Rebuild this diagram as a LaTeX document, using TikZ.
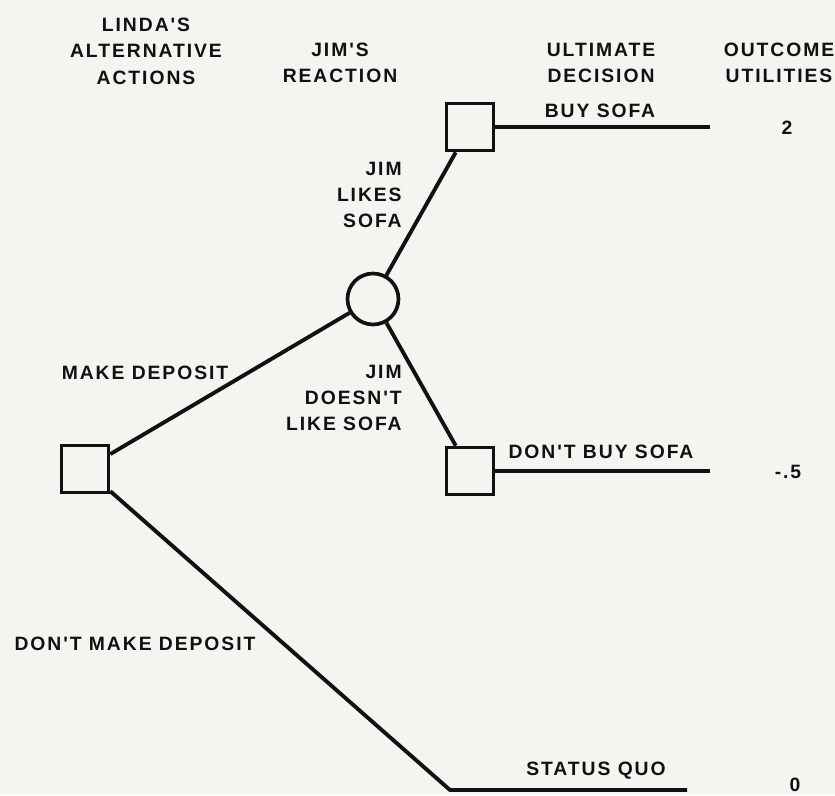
\documentclass[tikz,border=0pt]{standalone}
\usepackage{fontspec}
\setmainfont{Liberation Sans}
\newfontfamily\treefont[LetterSpace=10]{Liberation Sans}
\usepackage{xcolor}
\definecolor{dtink}{RGB}{17,17,17}
\definecolor{dtpaper}{RGB}{244,244,241}
\usetikzlibrary{positioning}

\tikzset{
  choice/.style={draw=dtink, line width=2.1pt, rectangle, minimum size=0.94cm, inner sep=0pt},
  chance/.style={draw=dtink, line width=2.1pt, circle, minimum size=1.02cm, inner sep=0pt},
  branch/.style={draw=dtink, line width=2.2pt},
  lbl/.style={font=\treefont\bfseries\fontsize{11}{15}\selectfont, text=dtink, align=center, inner sep=0pt},
}

\begin{document}
\begin{tikzpicture}[x=0.02cm, y=-0.02cm]
  % Paper
  \fill[dtpaper] (0,0) rectangle (835,795);
  \useasboundingbox (0,0) rectangle (835,795);

  % --- Column headings ---
  \node[lbl] (hlinda)   at (146,51) {LINDA'S\\ALTERNATIVE\\ACTIONS};
  \node[lbl] (hjim)     at (340,63) {JIM'S\\REACTION};
  \node[lbl] (hdecide)  at (601,63) {ULTIMATE\\DECISION};
  \node[lbl] (houtcome) at (779,63) {OUTCOME\\UTILITIES};

  % --- Decision and chance points ---
  \node[choice] (deposit) at (85,469) {};
  \node[chance] (jim)     at (373,299) {};
  \node[choice] (buy)     at (470,127) {};
  \node[choice] (nobuy)   at (470,471) {};

  % Branch ends
  \coordinate (buyend)    at (710,127);
  \coordinate (nobuyend)  at (710,471);
  \coordinate (quocorner) at (450,790);
  \coordinate (quoend)    at (687,790);

  % --- Branches ---
  \draw[branch] (deposit) -- (jim);
  \draw[branch] (jim) -- (buy);
  \draw[branch] (jim) -- (nobuy);
  \draw[branch] (buy.east) -- (buyend);
  \draw[branch] (nobuy.east) -- (nobuyend);
  \draw[branch] (deposit) -- (quocorner) -- (quoend);

  % --- Branch labels ---
  \node[lbl] (lmake)   at (145,373) {MAKE DEPOSIT};
  \node[lbl] (lnomake) at (135,644) {DON'T MAKE DEPOSIT};
  \node[lbl, align=right, anchor=east] (llikes) at (402,195) {JIM\\LIKES\\SOFA};
  \node[lbl, align=right, anchor=east] (ldislikes) at (402,398) {JIM\\DOESN'T\\LIKE SOFA};
  \node[lbl] (lbuy)    at (600,111) {BUY SOFA};
  \node[lbl] (lnobuy)  at (601,452) {DON'T BUY SOFA};
  \node[lbl] (lquo)    at (596,771) {STATUS QUO};

  % --- Outcome utilities ---
  \node[lbl] (ubuy)   at (787,128) {2};
  \node[lbl] (unobuy) at (788,472) {-.5};
  \node[lbl] (uquo)   at (795,785) {0};
\end{tikzpicture}
\end{document}
